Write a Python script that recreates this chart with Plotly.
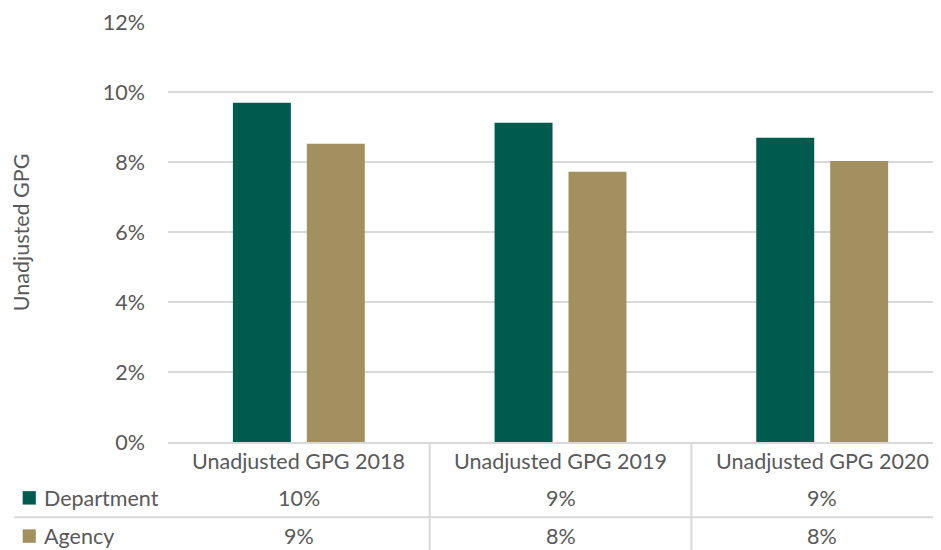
import plotly.graph_objects as go

categories = ["Unadjusted GPG 2018", "Unadjusted GPG 2019", "Unadjusted GPG 2020"]
department = [0.0969, 0.0912, 0.0869]
agency = [0.0852, 0.0772, 0.0803]
series_names = ["Department", "Agency"]
colors = ["#005B4F", "#A39060"]
y_ticks = [0, 0.02, 0.04, 0.06, 0.08, 0.10, 0.12]

FONT = "Lato"
GREY = "#595959"
LINE = "#D9D9D9"
FS = 21.5

fig = go.Figure()
for name, vals, col in zip(series_names, [department, agency], colors):
    fig.add_bar(x=categories, y=vals, name=name, marker_color=col,
                marker_line_width=0, showlegend=False)

# page body has an 8px margin, so the figure is sized to fit the window
fig.update_layout(
    width=933, height=542,
    margin=dict(l=160, r=0, t=14, b=108, autoexpand=False),
    plot_bgcolor="white", paper_bgcolor="white",
    barmode="group", bargap=0.435, bargroupgap=0.216,
    font=dict(family=FONT, color=GREY, size=FS),
)
fig.update_yaxes(
    range=[0, 0.12], tickvals=y_ticks, tickformat=".0%",
    showgrid=True, gridcolor=LINE, gridwidth=1.5, zeroline=False,
    showline=False, ticks="", ticklabelstandoff=22, automargin=False,
)
fig.update_xaxes(
    range=[-0.5, 2.454], showticklabels=False, ticks="", automargin=False,
    showline=True, linecolor=LINE, linewidth=2, showgrid=False,
)

# axis title
fig.add_annotation(x=-0.19, y=0.5, xref="paper", yref="paper",
                   text="Unadjusted GPG", textangle=-90, showarrow=False,
                   xanchor="center", yanchor="middle")

# data table under the chart
rows = [("Department", department, -0.133), ("Agency", agency, -0.224)]
for i, cat in enumerate(categories):
    fig.add_annotation(x=i, y=-0.045, xref="x", yref="paper", text=cat,
                       showarrow=False, yanchor="middle")
for (name, vals, ypos), col in zip(rows, colors):
    for i, v in enumerate(vals):
        fig.add_annotation(x=i, y=ypos, xref="x", yref="paper",
                           text=f"{round(v * 100)}%", showarrow=False,
                           yanchor="middle")
    fig.add_annotation(x=-0.163, y=ypos, xref="paper", yref="paper", text=name,
                       showarrow=False, xanchor="left", yanchor="middle")
    fig.add_shape(type="rect", xref="paper", yref="paper",
                  x0=-0.188, x1=-0.171, y0=ypos - 0.016, y1=ypos + 0.016,
                  fillcolor=col, line_width=0)

fig.add_shape(type="line", xref="paper", yref="paper", x0=-0.199, x1=1,
              y0=-0.179, y1=-0.179, line=dict(color=LINE, width=2))
for b in [0.5, 1.5]:
    fig.add_shape(type="line", xref="x", yref="paper", x0=b, x1=b,
                  y0=0, y1=-0.26, line=dict(color=LINE, width=2))

fig.write_html("out.html")
